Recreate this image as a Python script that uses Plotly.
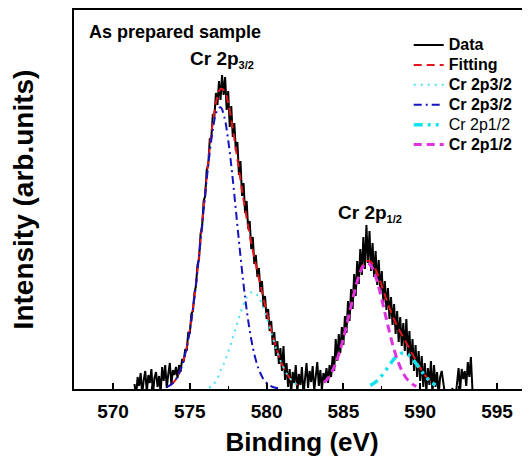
import numpy as np
import plotly.graph_objects as go

# ---------------- data ----------------
# measured XPS spectrum, Cr 2p region (arbitrary intensity units)
energy_start = 571.4
energy_step = 0.1
data_counts = [
    5, -8, 12, 3, 16, -5, 9, 18, -3, 14,
    6, 20, -6, 11, 17, 2, 13, -4, 22, 8,
    24, 1, 15, 26, 4, 19, 14, 22, 11, 24,
    17, 30, 27, 40, 38, 57, 55, 75, 78, 96,
    103, 124, 130, 155, 162, 188, 193, 219, 224, 250,
    251, 275, 272, 296, 284, 308, 289, 314, 294, 312,
    279, 298, 262, 283, 252, 266, 238, 247, 214, 228,
    193, 206, 176, 188, 160, 168, 140, 152, 125, 134,
    112, 121, 97, 108, 82, 93, 70, 80, 58, 68,
    44, 57, 33, 48, 25, 41, 18, 43, 9, 26,
    2, 20, -4, 17, 6, 24, -3, 15, 4, 22,
    -6, 12, 26, 1, 18, 7, 23, -2, 14, 27,
    3, 19, -1, 16, 8, 21, 6, 24, 12, 33,
    18, 50, 28, 55, 36, 62, 44, 73, 56, 88,
    68, 100, 80, 115, 93, 128, 105, 140, 114, 152,
    120, 164, 126, 158, 118, 146, 112, 138, 104, 129,
    96, 118, 86, 108, 79, 101, 70, 92, 64, 85,
    55, 78, 47, 72, 43, 66, 38, 70, 33, 58,
    24, 50, 18, 44, 12, 38, 8, 33, 2, 26,
    -3, 21, 4, 28, -5, 24, 2, 17, -6, 12,
    18, 5, -10, -15, -12, -18, -10, 1, -14, -8,
    6, 21, -2, 20, 10, 18, 3, 27, 12, 32,
    0,
]

# fitted curves, sampled every 0.25 eV
fit_step = 0.25
fit32_start = 573.75
fit32_values = [4.1, 7.7, 13.9, 23.6, 38.2, 58.6, 85.4, 118.3, 157, 196.8,
                234.8, 266.9, 289.4, 300, 298.3, 285.8, 265.2, 240.2, 214.1, 189.2,
                166.5, 146.3, 127.9, 110.5, 93.8, 77.4, 61.9, 47.7, 35.3, 25.1,
                16.9, 11.0, 6.8, 4.0]
fit12_start = 583.75
fit12_values = [6.5, 10.8, 17.1, 25.7, 37.0, 50.8, 66.5, 83.4, 99.5, 113.5,
                123.9, 127.9, 127.7, 122.6, 113.9, 103.1, 91.7, 80.9, 71.3, 63.1,
                55.8, 48.8, 41.9, 34.8, 27.7, 21.1, 15.2, 10.3, 6.5, 4.0]

cr32a_start = 576.25   # cyan dotted component
cr32a_values = [1, 4, 9, 18.3, 26.6, 36.9, 48.7, 61.4, 73.8, 84.7,
                92.6, 96.6, 96.2, 91.3, 82.7, 71.4, 58.8, 46.2, 34.6, 24.8,
                16.9, 11.0, 6.8, 4.0]
cr32b_start = 573.5    # blue dash-dot component
cr32b_values = [2.1, 4.1, 7.7, 13.9, 23.6, 38.2, 58.6, 85.4, 118.3, 155.6,
                194.2, 230.3, 259.4, 277.4, 281.7, 271.7, 248.9, 216.5, 178.8, 140.3,
                104.5, 73.9, 49.7, 31.7, 19.2, 11.1, 6.0, 3.1, 1.5, 0.7]
cr12a_start = 586.75   # cyan dash-dot component
cr12a_values = [3.6, 5.9, 9.2, 13.5, 18.6, 24.0, 29.1, 33.2, 35.6, 35.8,
                33.9, 30.1, 25.1, 19.7, 14.5, 10.0, 6.5, 4.0]
cr12b_start = 583.75   # magenta dashed component
cr12b_values = [6.5, 10.8, 17.1, 25.7, 37.0, 50.8, 66.5, 83.1, 98.9, 112.4,
                121.8, 125.9, 124.1, 116.7, 104.7, 89.6, 73.1, 56.9, 42.2, 29.9,
                20.2, 13.0, 8.0, 4.7, 2.6]

x_ticks = [570, 575, 580, 585, 590, 595]


def grid(start, step, n):
    return list(np.round(start + step * np.arange(n), 3))


def legend_name(text, bold=True):
    inner = f"<b>{text}</b>" if bold else text
    return f"<span style='font-size:16px'>{inner}</span>"


energy = grid(energy_start, energy_step, len(data_counts))
fit_x = grid(fit32_start, fit_step, len(fit32_values)) + [None] + grid(fit12_start, fit_step, len(fit12_values))
fit_y = fit32_values + [None] + fit12_values

FONT = "Arial, 'Liberation Sans', sans-serif"

fig = go.Figure()
fig.add_trace(go.Scatter(x=energy, y=data_counts, mode="lines", name=legend_name("Data"),
                         line=dict(color="black", width=2)))
fig.add_trace(go.Scatter(x=fit_x, y=fit_y, mode="lines", name=legend_name("Fitting"),
                         line=dict(color="#E8161B", width=2, dash="8px,5px", shape="spline")))
fig.add_trace(go.Scatter(x=grid(cr32a_start, fit_step, len(cr32a_values)), y=cr32a_values,
                         mode="lines", name=legend_name("Cr 2p3/2"),
                         line=dict(color="#4FE0F0", width=2, dash="2px,5px", shape="spline")))
fig.add_trace(go.Scatter(x=grid(cr32b_start, fit_step, len(cr32b_values)), y=cr32b_values,
                         mode="lines", name=legend_name("Cr 2p3/2"),
                         line=dict(color="#1414C0", width=2, dash="8px,4px,2px,4px", shape="spline")))
fig.add_trace(go.Scatter(x=grid(cr12a_start, fit_step, len(cr12a_values)), y=cr12a_values,
                         mode="lines", name=legend_name("Cr 2p1/2", bold=False),
                         line=dict(color="#14E1EE", width=3.5, dash="9px,5px,3px,5px,3px,5px", shape="spline")))
fig.add_trace(go.Scatter(x=grid(cr12b_start, fit_step, len(cr12b_values)), y=cr12b_values,
                         mode="lines", name=legend_name("Cr 2p1/2"),
                         line=dict(color="#E033E0", width=3, dash="8px,5px", shape="spline")))

fig.update_layout(
    width=522, height=449,
    margin=dict(l=66, r=0, t=2, b=68, autoexpand=False),
    paper_bgcolor="white", plot_bgcolor="white",
    font=dict(family=FONT, color="black"),
    showlegend=True,
    legend=dict(x=0.734, y=0.947, xanchor="left", yanchor="top",
                bgcolor="rgba(0,0,0,0)", font=dict(family=FONT, size=13, color="black"),
                tracegroupgap=0, itemwidth=30),
    xaxis=dict(range=[567.46, 597.15], showline=True, linecolor="black", linewidth=1.5,
               mirror=True, ticks="inside", ticklen=6, tickwidth=1.5, tickcolor="black",
               tickvals=x_ticks, ticklabelstandoff=4, automargin=False,
               minor=dict(ticks="inside", ticklen=3, tickwidth=1, tickcolor="black", dtick=2.5, tick0=570),
               showgrid=False, zeroline=False,
               tickfont=dict(family=FONT, size=19, color="black", weight="bold"),
               title=dict(text="Binding (eV)", standoff=12,
                          font=dict(family=FONT, size=26, color="black", weight="bold"))),
    yaxis=dict(range=[0, 379], showline=True, linecolor="black", linewidth=1.5,
               mirror=False, ticks="", showticklabels=False, automargin=False,
               showgrid=False, zeroline=False,
               title=dict(text="Intensity (arb.units)", standoff=30,
                          font=dict(family=FONT, size=28, color="black", weight="bold"))),
    annotations=[
        dict(x=568.3, y=357, xref="x", yref="y", text="<b>As prepared sample</b>",
             showarrow=False, xanchor="left", yanchor="middle",
             font=dict(family=FONT, size=18, color="black")),
        dict(x=574.85, y=330, xref="x", yref="y",
             text="<b>Cr 2p<sub><span style='font-size:11px'>3/2</span></sub></b>",
             showarrow=False, xanchor="left", yanchor="middle",
             font=dict(family=FONT, size=19, color="black")),
        dict(x=584.55, y=176, xref="x", yref="y",
             text="<b>Cr 2p<sub><span style='font-size:11px'>1/2</span></sub></b>",
             showarrow=False, xanchor="left", yanchor="middle",
             font=dict(family=FONT, size=19, color="black")),
    ],
)

fig.write_html("out.html")
